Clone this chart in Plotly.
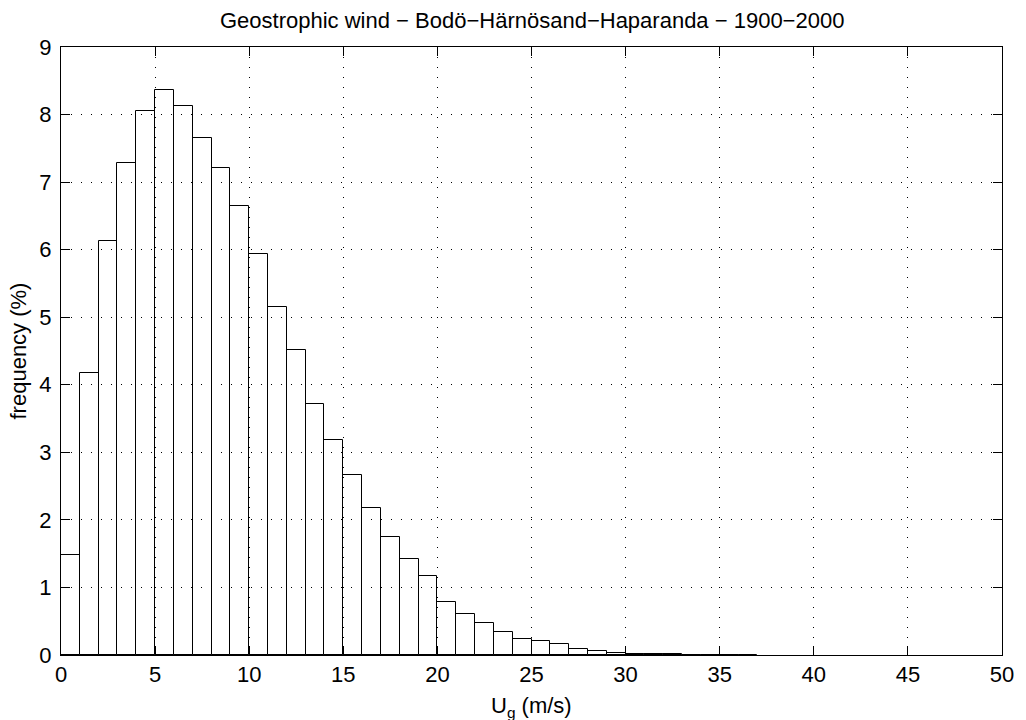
import plotly.graph_objects as go

# Histogram of geostrophic wind speed (bins of 1 m/s)
bin_left = list(range(0, 37))
freq = [1.48, 4.18, 6.13, 7.29, 8.05, 8.37, 8.13, 7.65, 7.21, 6.65,
        5.94, 5.15, 4.51, 3.71, 3.19, 2.67, 2.18, 1.75, 1.42, 1.17,
        0.78, 0.61, 0.48, 0.34, 0.24, 0.20, 0.16, 0.09, 0.06, 0.035,
        0.02, 0.015, 0.01, 0.005, 0.003, 0.002, 0.001]
bin_width = 1.0

x_ticks = [0, 5, 10, 15, 20, 25, 30, 35, 40, 45, 50]
y_ticks = [0, 1, 2, 3, 4, 5, 6, 7, 8, 9]

title_text = "Geostrophic wind − Bodö−Härnösand−Haparanda − 1900−2000"
x_title = "U<sub>g</sub> (m/s)"
y_title = "frequency (%)"

FONT = "Liberation Sans, Arial, Helvetica, sans-serif"
FS = 22

centers = [b + bin_width / 2 for b in bin_left]

fig = go.Figure()
fig.add_trace(go.Bar(
    x=centers, y=freq, width=bin_width,
    marker=dict(color="rgba(0,0,0,0)", line=dict(color="black", width=1)),
    showlegend=False,
))

axis_common = dict(
    showline=True, linecolor="black", linewidth=1, mirror="ticks",
    ticks="inside", ticklen=9, tickwidth=1, tickcolor="black",
    showgrid=True, gridcolor="black", gridwidth=1, griddash="1px,9px",
    zeroline=False,
    tickfont=dict(family=FONT, size=FS, color="black"),
)

fig.update_layout(
    width=1026, height=720,
    margin=dict(l=61, r=18, t=47, b=65),
    paper_bgcolor="white", plot_bgcolor="white",
    bargap=0,
    xaxis=dict(range=[0, 50], tickvals=x_ticks, **axis_common),
    yaxis=dict(range=[0, 9], tickvals=y_ticks, ticklabelstandoff=4, **axis_common),
    font=dict(family=FONT, color="black"),
    annotations=[
        dict(text=title_text, xref="paper", yref="paper", x=0.5, y=1,
             yshift=12, xanchor="center", yanchor="bottom", showarrow=False,
             font=dict(family=FONT, size=FS, color="black")),
        dict(text=x_title, xref="paper", yref="paper", x=0.5, y=0,
             yshift=-36, xanchor="center", yanchor="top", showarrow=False,
             font=dict(family=FONT, size=FS, color="black")),
        dict(text=y_title, xref="paper", yref="paper", x=0, y=0.5,
             xshift=-58, xanchor="left", yanchor="middle", showarrow=False,
             textangle=-90, font=dict(family=FONT, size=FS, color="black")),
    ],
)

fig.write_html("out.html")
